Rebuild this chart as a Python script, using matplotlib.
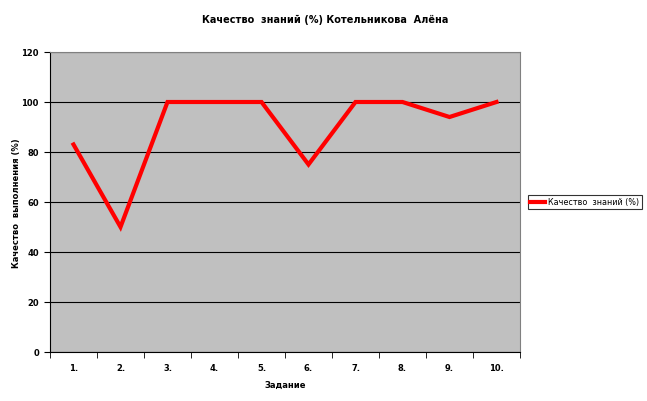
import numpy as np
import matplotlib.pyplot as plt

tasks = ['1.', '2.', '3.', '4.', '5.', '6.', '7.', '8.', '9.', '10.']
quality = [83, 50, 100, 100, 100, 75, 100, 100, 94, 100]
y_ticks = [0, 20, 40, 60, 80, 100, 120]

plt.rcParams['font.family'] = ['DejaVu Sans']

fig = plt.figure(figsize=(6.47, 4.02), dpi=100)
fig.patch.set_facecolor('white')
ax = fig.add_axes([50 / 647, 49 / 402, 470 / 647, 300 / 402])
ax.set_facecolor('#c0c0c0')

x = np.arange(len(tasks))
ax.plot(x, quality, color='#ff0000', linewidth=3, label='Качество  знаний (%)',
        solid_joinstyle='miter', zorder=3)

ax.set_xlim(-0.5, len(tasks) - 0.5)
ax.set_ylim(0, 120)
ax.set_yticks(y_ticks)
ax.set_yticklabels([str(v) for v in y_ticks], fontsize=6, fontweight='bold')
ax.set_xticks(x)
ax.set_xticklabels(tasks, fontsize=6, fontweight='bold')
ax.tick_params(axis='x', length=0, pad=8)
ax.set_xticks(np.arange(-0.5, len(tasks), 1), minor=True)
ax.tick_params(axis='x', which='minor', length=4, direction='out', color='black')
ax.tick_params(axis='y', length=4, direction='out', pad=4)

ax.grid(axis='y', color='black', linewidth=0.8)
ax.set_axisbelow(True)
for side in ['left', 'bottom']:
    ax.spines[side].set_color('black')
    ax.spines[side].set_linewidth(0.8)
for side in ['top', 'right']:
    ax.spines[side].set_color('#808080')
    ax.spines[side].set_linewidth(0.8)

ax.set_xlabel('Задание', fontsize=6, fontweight='bold', labelpad=6)
ax.set_ylabel('Качество  выполнения (%)', fontsize=6, fontweight='bold')
ax.yaxis.set_label_coords(-29 / 470, 0.5)
fig.text(325 / 647, 1 - 20 / 402, 'Качество  знаний (%) Котельникова  Алёна',
         ha='center', va='center', fontsize=7, fontweight='bold')

leg = ax.legend(loc='center left', bbox_to_anchor=(528 / 647, 1 - 203 / 402),
                bbox_transform=fig.transFigure, fontsize=5.8, frameon=True,
                fancybox=False, edgecolor='black', borderpad=0.3,
                handlelength=1.8, handletextpad=0.4, borderaxespad=0)
leg.get_frame().set_linewidth(0.8)

fig.savefig('out.png', dpi=100)
plt.close()
